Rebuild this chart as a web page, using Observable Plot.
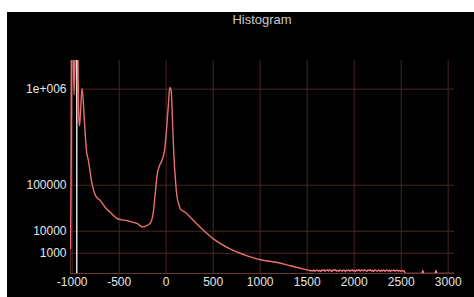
<!DOCTYPE html>
<html><head><meta charset="utf-8">
<script src="https://cdn.jsdelivr.net/npm/d3@7"></script>
<script src="https://cdn.jsdelivr.net/npm/@observablehq/plot@0.6"></script>
<style>
html,body{margin:0;padding:0;background:#fff;}
#wrap{position:absolute;left:7px;top:12px;width:467px;height:285px;background:#000;overflow:hidden;}
#title{position:absolute;z-index:2;left:63px;width:384px;top:0;text-align:center;font-family:"Liberation Sans",Arial,sans-serif;font-size:13px;line-height:normal;color:#c8c8c8;}
#wrap svg{position:absolute;z-index:1;left:0;top:0;}
</style></head>
<body><div id="wrap"><div id="title">Histogram</div></div>
<script>
const xTicks = [-1000,-500,0,500,1000,1500,2000,2500,3000];
const yTicks = [1000,10000,100000,1000000];
const yTickLabels = ["1000","10000","100000","1e+006"];
const xDomain = [-1018,3067];
const yDomain = [0,1570000];
const markerX = -951;

const binX = [-1018,-1010,-1003,-993,-980,-960,-945,-930,-922,-895,-869,-848,-827,-795,-752,-699,-646,-593,-518,-412,-305,-252,-220,-167,-135,-114,-93,-71,-39,-18,3,24,38,53,67,81,99,117,134,152,205,259,365,506,684,862,1003,1181,1322,1464,1535];
const binCount = [1870,200000,2500000,2500000,900000,2500000,2500000,600000,500000,1010000,535000,280000,215000,117000,67500,54700,39800,31600,22500,20000,16700,13700,14200,17700,34500,81500,151000,187000,227000,280000,450000,772000,1030000,975000,555000,260000,117000,62000,47200,37300,31600,24100,13100,5270,1800,660,297,150,49,8.5,1.9];
const tailX = [1547,1559,1571,1583,1595,1607,1619,1631,1643,1655,1667,1679,1691,1703,1715,1727,1739,1751,1763,1775,1787,1799,1811,1823,1835,1847,1859,1871,1883,1895,1907,1919,1931,1943,1955,1967,1979,1991,2003,2015,2027,2039,2051,2063,2075,2087,2099,2111,2123,2135,2147,2159,2171,2183,2195,2207,2219,2231,2243,2255,2267,2279,2291,2303,2315,2327,2339,2351,2363,2375,2387,2399,2411,2423,2435,2447,2459,2471,2483,2495,2507,2519,2531,2545,2720,2730,2740,2860,2870,2880,3060];
const tailCount = [3.2,1.4,4.0,0.9,2.7,4.8,1.2,3.6,0.7,4.4,2.1,5.2,1.0,3.1,4.6,1.5,5.0,2.3,0.8,4.2,3.0,5.4,1.2,3.7,0.9,4.7,2.5,1.1,4.0,3.3,0.7,3.6,1.9,4.4,1.0,2.8,5.0,1.3,3.5,0.8,4.1,2.2,5.3,1.1,3.0,4.5,1.6,4.9,2.4,0.9,4.0,3.1,5.1,1.2,3.4,0.8,4.6,2.6,1.0,3.9,3.2,0.7,3.5,1.8,4.3,0.9,2.7,4.6,1.2,3.3,0.8,3.8,2.0,4.2,1.0,2.9,3.6,1.1,2.6,0.9,2.8,1.3,2.0,0,0,3,0,0,3,0,0];

const main = binX.map((x,i)=>({x, c: binCount[i]}));
const tail = [main[main.length-1], ...tailX.map((x,i)=>({x, c: tailCount[i]}))];

const chart = Plot.plot({
  width: 467, height: 285,
  marginLeft: 63, marginRight: 20, marginTop: 48, marginBottom: 24,
  style: {background: "#000", color: "#e6e6e6", fontFamily: '"Liberation Sans", Arial, sans-serif', fontSize: "12px"},
  x: {domain: xDomain, ticks: xTicks, tickFormat: d => String(d), tickSize: 0, tickPadding: 4, label: null},
  y: {type: "pow", exponent: 0.32, domain: yDomain, ticks: yTicks, tickFormat: d => yTickLabels[yTicks.indexOf(d)], tickSize: 0, tickPadding: 4, label: null},
  marks: [
    Plot.ruleX(xTicks, {stroke: "#4a2424"}),
    Plot.ruleY(yTicks, {stroke: "#4a2424"}),
    Plot.ruleY([0], {stroke: "#703636"}),
    Plot.ruleX([xDomain[0]], {stroke: "#5a2a2a"}),
    Plot.line(main, {x: "x", y: "c", stroke: "#e87070", strokeWidth: 1.4, curve: "monotone-x", clip: true}),
    Plot.line(tail, {x: "x", y: "c", stroke: "#f88080", strokeWidth: 1.3, curve: "linear", clip: true}),
    Plot.ruleX([markerX], {stroke: "#ffffff", strokeWidth: 1.3})
  ]
});
document.getElementById("wrap").appendChild(chart);
</script>
</body></html>
